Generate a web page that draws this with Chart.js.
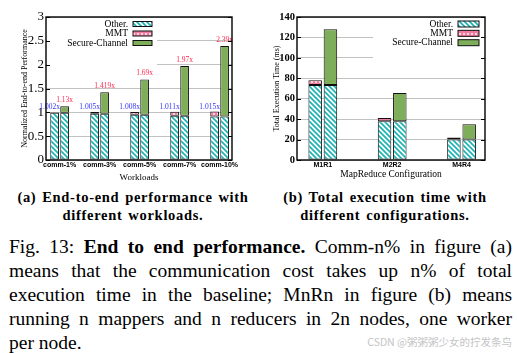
<!DOCTYPE html>
<html>
<head>
<meta charset="utf-8">
<script src="https://cdn.jsdelivr.net/npm/chart.js@4.4.1/dist/chart.umd.min.js"></script>
<style>
    body {margin: 0; width: 517px; height: 353px; background: #fff; position: relative; overflow: hidden; font-family: 'Liberation Serif', serif; color: #000;}
    #wa {position: absolute; left: 0; top: 0;}
    #wb {position: absolute; left: 258px; top: 0;}
    .cap {position: absolute; top: 188px; width: 266px; text-align: center; font-family: 'Liberation Serif', serif; font-weight: bold; font-size: 14.5px; line-height: 18px; letter-spacing: 0.7px; word-spacing: 1.5px;}
    #para {position: absolute; left: 9px; top: 235px; width: 503px; font-size: 19.5px; line-height: 24px;}
    #para div {text-align: justify; text-align-last: justify;}
    #para div.last {text-align-last: left;}
    #wm {position: absolute; right: 5px; top: 334px; font-family: 'Noto Sans CJK SC', sans-serif; font-size: 10.5px; line-height: 16px; color: #c4c4c4;}
</style>
</head>
<body>
<div id="wa"><canvas id="chartA" width="258" height="185"></canvas></div>
<div id="wb"><canvas id="chartB" width="259" height="185"></canvas></div>
<div class="cap" style="left:0">(a) End-to-end performance with<br>different workloads.</div>
<div class="cap" style="left:252px">(b) Total execution time with<br>different configurations.</div>
<div id="para">
    <div>Fig. 13: <b>End to end performance.</b> Comm-n% in figure (a)</div>
    <div>means that the communication cost takes up n% of total</div>
    <div>execution time in the baseline; MnRn in figure (b) means</div>
    <div>running n mappers and n reducers in 2n nodes, one worker</div>
    <div class="last">per node.</div>
</div>
<div id="wm">CSDN @粥粥粥少女的拧发条鸟</div>
<script>
// (a) workloads
const workloads = ['comm-1%', 'comm-3%', 'comm-5%', 'comm-7%', 'comm-10%'];
const wlOther = [0.99, 0.97, 0.95, 0.93, 0.91];
const wlMmt = [0.012, 0.035, 0.058, 0.081, 0.105];
const wlSecure = [0.14, 0.449, 0.74, 1.04, 1.48];
const wlMmtLabels = ['1.002x', '1.005x', '1.008x', '1.011x', '1.015x'];
const wlSecureLabels = ['1.13x', '1.419x', '1.69x', '1.97x', '2.39x'];

// (b) MapReduce configurations (ms)
const configs = ['M1R1', 'M2R2', 'M4R4'];
const cfgOther = [73.5, 38, 20];
const cfgMmt = [4.5, 3, 2];
const cfgSecure = [54.5, 27.5, 15];

const legendNames = ['Other.', 'MMT', 'Secure-Channel'];

function hatchPattern() {
    const c = document.createElement('canvas'); c.width = c.height = 5;
    const g = c.getContext('2d');
    g.fillStyle = '#fff'; g.fillRect(0, 0, 5, 5);
    g.strokeStyle = '#1fb4b4'; g.lineWidth = 1.7;
    g.beginPath();
    g.moveTo(-1, -1); g.lineTo(6, 6);
    g.moveTo(4, -1); g.lineTo(6, 1);
    g.moveTo(-1, 4); g.lineTo(1, 6);
    g.stroke();
    return g.createPattern(c, 'repeat');
}
function dotPattern() {
    const c = document.createElement('canvas'); c.width = c.height = 4;
    const g = c.getContext('2d');
    g.fillStyle = '#f27ca0'; g.fillRect(0, 0, 4, 4);
    g.fillStyle = '#fff';
    g.beginPath(); g.arc(2, 2, 0.9, 0, Math.PI * 2); g.fill();
    return g.createPattern(c, 'repeat');
}
const fills = [hatchPattern(), dotPattern(), '#7fae5a'];

const ser = 'Liberation Serif', sans = 'Liberation Sans';

const framePlugin = {
    id: 'frame',
    afterDatasetsDraw(chart, args, o) {
        const g = chart.ctx, L = o.legend;
        g.save();
        g.fillStyle = '#fff';
        g.fillRect(L.bx, L.by, L.bw, L.bh);
        g.font = '9.5px "' + ser + '"';
        g.textAlign = 'right'; g.textBaseline = 'middle';
        legendNames.forEach((n, i) => {
            const y = L.y0 + i * L.dy;
            g.fillStyle = '#000';
            g.fillText(n, L.tx, y);
            g.fillStyle = fills[i];
            g.fillRect(L.kx, y - L.kh / 2, L.kw, L.kh);
            g.strokeStyle = '#111'; g.lineWidth = 1;
            g.strokeRect(L.kx, y - L.kh / 2, L.kw, L.kh);
        });
        if (o.labels) {
            const ma = chart.getDatasetMeta(1), mb = chart.getDatasetMeta(3);
            g.font = '7.5px "' + ser + '"';
            g.textAlign = 'center';
            o.labels.a.forEach((t, i) => {
                const ea = ma.data[i], eb = mb.data[i];
                g.fillStyle = '#3434ff';
                g.fillText(t, (ea.x + eb.x) / 2 - 10, ea.y - 5);
                g.fillStyle = '#ff2850';
                g.fillText(o.labels.b[i], eb.x, eb.y - 6.5);
            });
        }
        g.restore();
    },
    afterDraw(chart) {
        const g = chart.ctx, a = chart.chartArea, ys = chart.scales.y;
        g.save();
        g.strokeStyle = '#000'; g.lineWidth = 1;
        g.beginPath();
        ys.ticks.forEach(t => {
            const y = Math.round(ys.getPixelForValue(t.value)) + 0.5;
            g.moveTo(a.left, y); g.lineTo(a.left + 4, y);
            g.moveTo(a.right, y); g.lineTo(a.right - 4, y);
        });
        g.stroke();
        g.lineWidth = 1.4;
        g.strokeRect(a.left, a.top, a.right - a.left, a.bottom - a.top);
        g.restore();
    }
};

function buildDatasets(other, mmt, secure) {
    const pts = arr => arr.map((v, i) => ({x: i, y: v}));
    const base = {borderColor: '#111', borderWidth: 1, borderSkipped: false};
    return [
        Object.assign({}, base, {label: 'Other.', stack: 'a', data: pts(other), backgroundColor: fills[0]}),
        Object.assign({}, base, {label: 'MMT', stack: 'a', data: pts(mmt), backgroundColor: fills[1]}),
        Object.assign({}, base, {label: 'Other.', stack: 'b', data: pts(other), backgroundColor: fills[0]}),
        Object.assign({}, base, {label: 'Secure-Channel', stack: 'b', data: pts(secure), backgroundColor: fills[2]})
    ];
}

function makeChart(el, cfg) {
    const ds = buildDatasets(cfg.other, cfg.mmt, cfg.secure);
    ds.forEach(d => { d.categoryPercentage = cfg.catPct; d.barPercentage = cfg.barPct; });
    return new Chart(el, {
        type: 'bar',
        data: {datasets: ds},
        plugins: [framePlugin],
        options: {
            responsive: false,
            animation: false,
            layout: {padding: {top: 17, right: cfg.padRight, left: 0, bottom: 0}},
            plugins: {
                legend: {display: false},
                tooltip: {enabled: false},
                frame: {legend: cfg.legend, labels: cfg.labels}
            },
            scales: {
                x: {
                    type: 'linear', min: cfg.xMin, max: cfg.xMax, offset: false,
                    afterBuildTicks: s => { s.ticks = cfg.cats.map((_, i) => ({value: i})); },
                    afterFit: s => { s.height = 25; },
                    grid: {display: false, drawTicks: false, offset: false},
                    border: {display: false},
                    ticks: {callback: v => cfg.cats[v], padding: 1, color: '#000', maxRotation: 0, autoSkip: false,
                        font: {family: sans, size: 7, weight: 'bold'}},
                    title: {display: true, text: cfg.xTitle, color: '#000', padding: {top: 0, bottom: cfg.xTitlePad},
                        font: {family: ser, size: cfg.xTitleSize}}
                },
                y: {
                    stacked: true, min: 0, max: cfg.yMax,
                    afterFit: s => { s.width = cfg.yWidth; },
                    grid: {color: '#c2c2c2', lineWidth: 1, drawTicks: false},
                    border: {display: false},
                    ticks: {stepSize: cfg.yStep, padding: 2, color: '#000', callback: v => String(v),
                        font: {family: ser, size: cfg.yTickSize, weight: cfg.yTickWeight}},
                    title: {display: true, text: cfg.yTitle, color: '#000', padding: {top: cfg.yTitlePad, bottom: 0},
                        font: {family: ser, size: 8}}
                }
            }
        }
    });
}

makeChart(document.getElementById('chartA'), {
    cats: workloads, other: wlOther, mmt: wlMmt, secure: wlSecure,
    labels: {a: wlMmtLabels, b: wlSecureLabels},
    xMin: -0.34, xMax: 4.31, catPct: 0.5, barPct: 0.87,
    yMax: 3, yStep: 0.5, yWidth: 46, padRight: 26, yTickSize: 13, yTickWeight: 'normal',
    xTitle: 'Workloads', xTitleSize: 9, xTitlePad: 1.5,
    yTitle: 'Normalized End-to-end Performance', yTitlePad: 20.2,
    legend: {bx: 47, by: 18, bw: 110, bh: 52, tx: 128, kx: 133, kw: 19, kh: 5, y0: 24, dy: 9.5}
});

makeChart(document.getElementById('chartB'), {
    cats: configs, other: cfgOther, mmt: cfgMmt, secure: cfgSecure,
    labels: null,
    xMin: -0.372, xMax: 2.338, catPct: 0.44, barPct: 0.885,
    yMax: 140, yStep: 20, yWidth: 39, padRight: 32, yTickSize: 10.5, yTickWeight: 'bold',
    xTitle: 'MapReduce Configuration', xTitleSize: 9.5, xTitlePad: 5.3,
    yTitle: 'Total Execution Time (ms)', yTitlePad: 14.2,
    legend: {bx: 115, by: 18, bw: 111, bh: 44, tx: 195, kx: 200, kw: 21, kh: 6, y0: 24, dy: 9.35}
});
</script>
</body>
</html>
